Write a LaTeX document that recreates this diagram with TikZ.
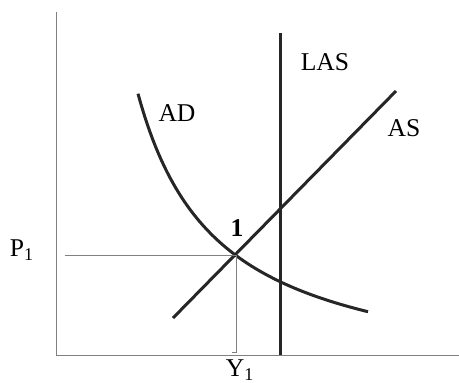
\documentclass[tikz,border=0pt]{standalone}
\usepackage{fontspec}
\setmainfont{Liberation Serif}

\tikzset{
  curve/.style={line width=1.5pt, black!85},
  guide/.style={line width=0.5pt, black!50},
  lbl/.style={font=\fontsize{12.8}{15}\selectfont, inner sep=0pt},
}

\begin{document}
\begin{tikzpicture}[x=0.5pt, y=0.5pt]
  \useasboundingbox (0,0) rectangle (459,382);

  % axes
  \draw[guide] (56,370) -- (56,27) -- (459,27);

  % LAS
  \draw[curve] (280,349) -- (280,27);
  \node[lbl] (las) at (325,320) {LAS};

  % AS
  \draw[curve] (173,64) -- (396,291);
  \node[lbl] (as) at (404,254) {AS};

  % AD
  \draw[curve] plot[domain=138:368, samples=80] (\x, {-5.5+235/((\x-58)/100)});
  \node[lbl] (ad) at (177,269) {AD};

  % equilibrium 1
  \coordinate (E) at (236,127);
  \coordinate (p1end) at (65,127);
  \coordinate (y1end) at (236,30);
  \draw[guide] (p1end) -- (E) -- (y1end) -- ++(-4,0);
  \node[lbl, font=\fontsize{12.8}{15}\selectfont\bfseries] (one) at (237,154) {1};
  \node[lbl] (p1) at (22,132) {P\textsubscript{1}};
  \node[lbl] (y1) at (240,12) {Y\textsubscript{1}};
\end{tikzpicture}
\end{document}
